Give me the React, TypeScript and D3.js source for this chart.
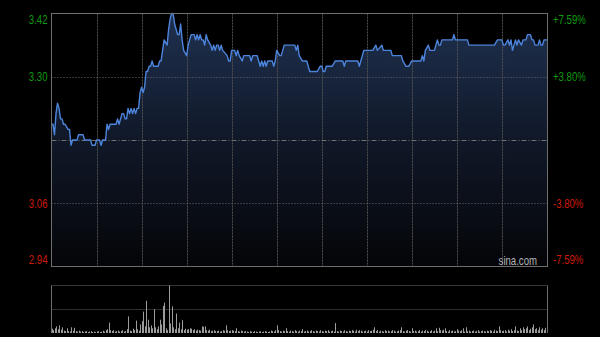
import React from "react";
import * as d3 from "d3";

// trading minutes since 09:30 (HK session, 330 minutes incl. lunch gap collapsed)
const priceMinutes = [
  0, 1, 2, 3, 4, 5, 6, 7, 8, 9, 11, 12, 13, 14, 17, 18, 21, 22, 26, 27, 29, 30, 32, 33, 34, 36,
  37, 38, 39, 43, 44, 45, 46, 47, 48, 49, 50, 51, 52, 53, 54, 55, 56, 57, 58, 59, 60, 61, 62,
  63, 64, 65, 66, 67, 68, 71, 72, 73, 74, 75, 77, 78, 79, 80, 81, 82, 83, 84, 85, 86, 87, 88,
  90, 91, 92, 93, 95, 96, 97, 98, 99, 100, 101, 102, 103, 104, 106, 107, 108, 109, 110, 111,
  112, 113, 114, 117, 118, 119, 120, 122, 123, 124, 125, 127, 128, 132, 133, 134, 137, 138,
  139, 140, 141, 142, 143, 144, 147, 148, 149, 150, 152, 153, 155, 162, 163, 164, 165, 167,
  170, 172, 177, 179, 180, 181, 182, 183, 187, 189, 194, 195, 196, 204, 205, 207, 208, 214,
  216, 217, 220, 221, 226, 227, 233, 234, 236, 238, 240, 246, 247, 248, 249, 251, 252, 255,
  256, 257, 258, 259, 260, 267, 268, 269, 277, 278, 295, 297, 300, 301, 302, 304, 305, 306,
  307, 308, 309, 310, 311, 313, 314, 316, 317, 319, 320, 321, 322, 324, 325, 326, 327, 328, 330,
];
const prices = [
  3.21, 3.21, 3.19, 3.23, 3.25, 3.24, 3.22, 3.22, 3.21, 3.21, 3.2, 3.2, 3.17, 3.18, 3.18, 3.19,
  3.19, 3.18, 3.18, 3.17, 3.17, 3.18, 3.18, 3.17, 3.18, 3.18,
  3.21, 3.2, 3.21, 3.21, 3.22, 3.21, 3.22, 3.23, 3.23, 3.22, 3.22, 3.24, 3.23, 3.24, 3.23, 3.24,
  3.23, 3.24, 3.24, 3.27, 3.28, 3.27, 3.28,
  3.31, 3.31, 3.32, 3.32, 3.33, 3.32, 3.32, 3.33, 3.33, 3.35, 3.37, 3.36, 3.39, 3.41, 3.42, 3.42,
  3.4, 3.39, 3.38, 3.38, 3.4, 3.37, 3.35,
  3.34, 3.36, 3.37, 3.38, 3.38, 3.37, 3.38, 3.37, 3.38, 3.37, 3.37, 3.36, 3.38, 3.37, 3.36, 3.35,
  3.36, 3.35, 3.36, 3.36,
  3.35, 3.36, 3.35, 3.34, 3.33, 3.33, 3.35, 3.35, 3.34, 3.35, 3.34, 3.33, 3.34, 3.34, 3.33, 3.34,
  3.34, 3.33,
  3.32, 3.33, 3.32, 3.33, 3.32, 3.33, 3.33, 3.32, 3.33, 3.35, 3.34, 3.34, 3.36, 3.36, 3.35, 3.36,
  3.34, 3.33,
  3.33, 3.31, 3.31, 3.32, 3.32, 3.31, 3.31, 3.32, 3.32, 3.33, 3.33, 3.32, 3.33, 3.33, 3.32, 3.34,
  3.35, 3.35,
  3.36, 3.35, 3.36, 3.35, 3.35, 3.34, 3.34, 3.33, 3.32, 3.32, 3.33, 3.33, 3.34, 3.33, 3.35, 3.36,
  3.35, 3.35,
  3.36, 3.37, 3.36, 3.36, 3.37, 3.37, 3.38, 3.37, 3.37, 3.36, 3.36, 3.37, 3.37, 3.36, 3.36, 3.37,
  3.36, 3.37,
  3.35, 3.36, 3.37, 3.36, 3.37, 3.36, 3.37, 3.37, 3.38, 3.38, 3.37, 3.37, 3.36, 3.36, 3.37, 3.36,
  3.36, 3.37, 3.37,
];

// relative volume per minute (0..330), max = 100
const volumes = [
  9, 6, 10, 14, 8, 16, 7, 12, 5, 4,
  10, 4, 3, 12, 5, 11, 4, 3, 5, 3,
  4, 2, 3, 4, 2, 3, 4, 2, 3, 2,
  3, 4, 2, 3, 5, 3, 6, 8, 22, 6,
  4, 6, 3, 4, 5, 3, 4, 6, 3, 4,
  8, 35, 5, 4, 9, 6, 26, 8, 5, 18,
  25, 45, 14, 68, 28, 12, 16, 10, 50, 12,
  8, 14, 28, 18, 57, 64, 10, 6, 100, 20,
  56, 12, 8, 41, 10, 22, 8, 27, 6, 9,
  7, 8, 10, 9, 6, 8, 5, 7, 6, 5,
  14, 13, 14, 6, 5, 7, 4, 5, 6, 4,
  4, 5, 3, 4, 6, 5, 16, 6, 4, 5,
  6, 5, 4, 10, 4, 3, 5, 4, 3, 4,
  3, 2, 4, 3, 2, 4, 3, 2, 3, 4,
  2, 3, 4, 3, 2, 3, 5, 4, 3, 6,
  16, 6, 4, 3, 5, 4, 10, 4, 3, 5,
  4, 3, 6, 4, 3, 5, 4, 8, 3, 4,
  5, 3, 4, 6, 4, 3, 5, 4, 3, 6,
  4, 3, 5, 4, 6, 3, 4, 5, 3, 21,
  4, 3, 5, 4, 3, 6, 4, 3, 5, 4,
  6, 5, 3, 7, 4, 6, 5, 3, 4, 5,
  3, 6, 4, 5, 7, 12, 4, 6, 3, 5,
  4, 3, 6, 4, 5, 3, 4, 6, 5, 3,
  4, 5, 6, 12, 4, 3, 5, 6, 4, 3,
  10, 4, 5, 3, 4, 6, 3, 5, 4, 6,
  5, 3, 4, 6, 3, 5, 10, 4, 11, 6,
  5, 7, 10, 4, 3, 6, 4, 5, 3, 4,
  8, 5, 4, 6, 10, 3, 12, 4, 5, 3,
  4, 5, 3, 4, 6, 3, 4, 5, 4, 3,
  5, 4, 6, 5, 3, 7, 5, 4, 14, 6,
  4, 5, 6, 3, 7, 5, 8, 4, 6, 14,
  5, 4, 10, 6, 12, 8, 10, 14, 6, 9,
  12, 18, 8, 10, 6, 12, 7, 10, 6, 11,
  10,
];

const priceTicks = [3.42, 3.3, 3.18, 3.06, 2.94];
const leftLabels = ["3.42", "3.30", "", "3.06", "2.94"];
const rightLabels = ["+7.59%", "+3.80%", "", "-3.80%", "-7.59%"];
const gridMinutes = [30, 60, 90, 120, 150, 180, 210, 240, 270, 300];

const W = 600;
const H = 337;
const L = 51.5;
const R = 547.5;
const T = 13.5;
const B = 266.5;
const VT = 285.5;
const VB = 333;

export default function App() {
  const x = d3.scaleLinear().domain([0, 330]).range([L, R - 0.5]);
  const y = d3.scaleLinear().domain([2.94, 3.42]).range([B, T]);
  const yv = d3.scaleLinear().domain([0, 100]).range([VB, VT]);

  const pts: [number, number][] = priceMinutes.map((m, i) => [m, prices[i]]);
  const line = d3
    .line<[number, number]>()
    .x((d) => x(d[0]))
    .y((d) => y(d[1]));
  const area = d3
    .area<[number, number]>()
    .x((d) => x(d[0]))
    .y0(B)
    .y1((d) => y(d[1]));

  const font = "'Liberation Sans', Arial, sans-serif";
  const textStyle = (tx: number, ty: number) => ({
    transform: `translate(${tx}px, ${ty}px) scale(0.8, 1)`,
  });

  const labelY = (i: number) => {
    if (i === 0) return y(priceTicks[i]) + 10;
    if (i === priceTicks.length - 1) return y(priceTicks[i]) - 2.5;
    return y(priceTicks[i]) + 4.3;
  };
  const colorOf = (i: number) => (i < 2 ? "#109a10" : "#cc1a0a");

  return (
    <svg
      width={W}
      height={H}
      style={{ position: "absolute", left: 0, top: 0, background: "#000" }}
    >
      <defs>
        <linearGradient id="fillGrad" gradientUnits="userSpaceOnUse" x1="0" y1={T} x2="0" y2={B}>
          <stop offset="0" stopColor="#1f3150" />
          <stop offset="0.5" stopColor="#101828" />
          <stop offset="1" stopColor="#040508" />
        </linearGradient>
      </defs>
      <rect x={0} y={0} width={W} height={H} fill="#000" />

      <path d={area(pts) || ""} fill="url(#fillGrad)" />

      {gridMinutes.map((m) => (
        <line
          key={"v" + m}
          x1={Math.round(x(m)) + 0.5}
          x2={Math.round(x(m)) + 0.5}
          y1={T}
          y2={B}
          stroke="#505050"
          strokeDasharray="2,1"
        />
      ))}
      {priceTicks.slice(1, 4).map((p, i) => (
        <line
          key={"h" + p}
          x1={L}
          x2={R}
          y1={Math.round(y(p)) + 0.5}
          y2={Math.round(y(p)) + 0.5}
          stroke={i === 1 ? "#707070" : "#6a6a6a"}
          strokeDasharray={i === 1 ? "5,2,1,2" : "1,2"}
        />
      ))}

      <path d={line(pts) || ""} fill="none" stroke="#4d84dc" strokeWidth={1.4} strokeLinejoin="round" />

      <rect x={L} y={T} width={R - L} height={B - T} fill="none" stroke="#6e6e6e" />

      {priceTicks.map((p, i) =>
        leftLabels[i] ? (
          <text
            key={"l" + i}
            style={textStyle(47.5, labelY(i))}
            textAnchor="end"
            fontFamily={font}
            fontSize={12}
            fill={colorOf(i)}
          >
            {leftLabels[i]}
          </text>
        ) : null
      )}
      {priceTicks.map((p, i) =>
        rightLabels[i] ? (
          <text
            key={"r" + i}
            style={textStyle(553, labelY(i))}
            textAnchor="start"
            fontFamily={font}
            fontSize={12}
            fill={colorOf(i)}
          >
            {rightLabels[i]}
          </text>
        ) : null
      )}
      <text
        style={textStyle(537, 264.5)}
        textAnchor="end"
        fontFamily={font}
        fontSize={12}
        fill="#b4b4b4"
      >
        sina.com
      </text>

      {/* volume panel */}
      <line x1={L} x2={R} y1={VT} y2={VT} stroke="#6a6a6a" strokeDasharray="1,1" />
      <line x1={L} x2={R} y1={Math.round(yv(50)) + 0.5} y2={Math.round(yv(50)) + 0.5} stroke="#5a5a5a" strokeDasharray="1,1" />
      {volumes.map((v, m) => (
        <line
          key={"vol" + m}
          x1={Math.round(x(m)) + 0.5}
          x2={Math.round(x(m)) + 0.5}
          y1={VB}
          y2={Math.min(yv(v), VB - 1)}
          stroke="#9c9c9c"
          strokeWidth={1}
        />
      ))}
      <line x1={L} x2={L} y1={VT} y2={VB} stroke="#6e6e6e" />
      <line x1={R} x2={R} y1={VT} y2={VB} stroke="#6e6e6e" />
    </svg>
  );
}
